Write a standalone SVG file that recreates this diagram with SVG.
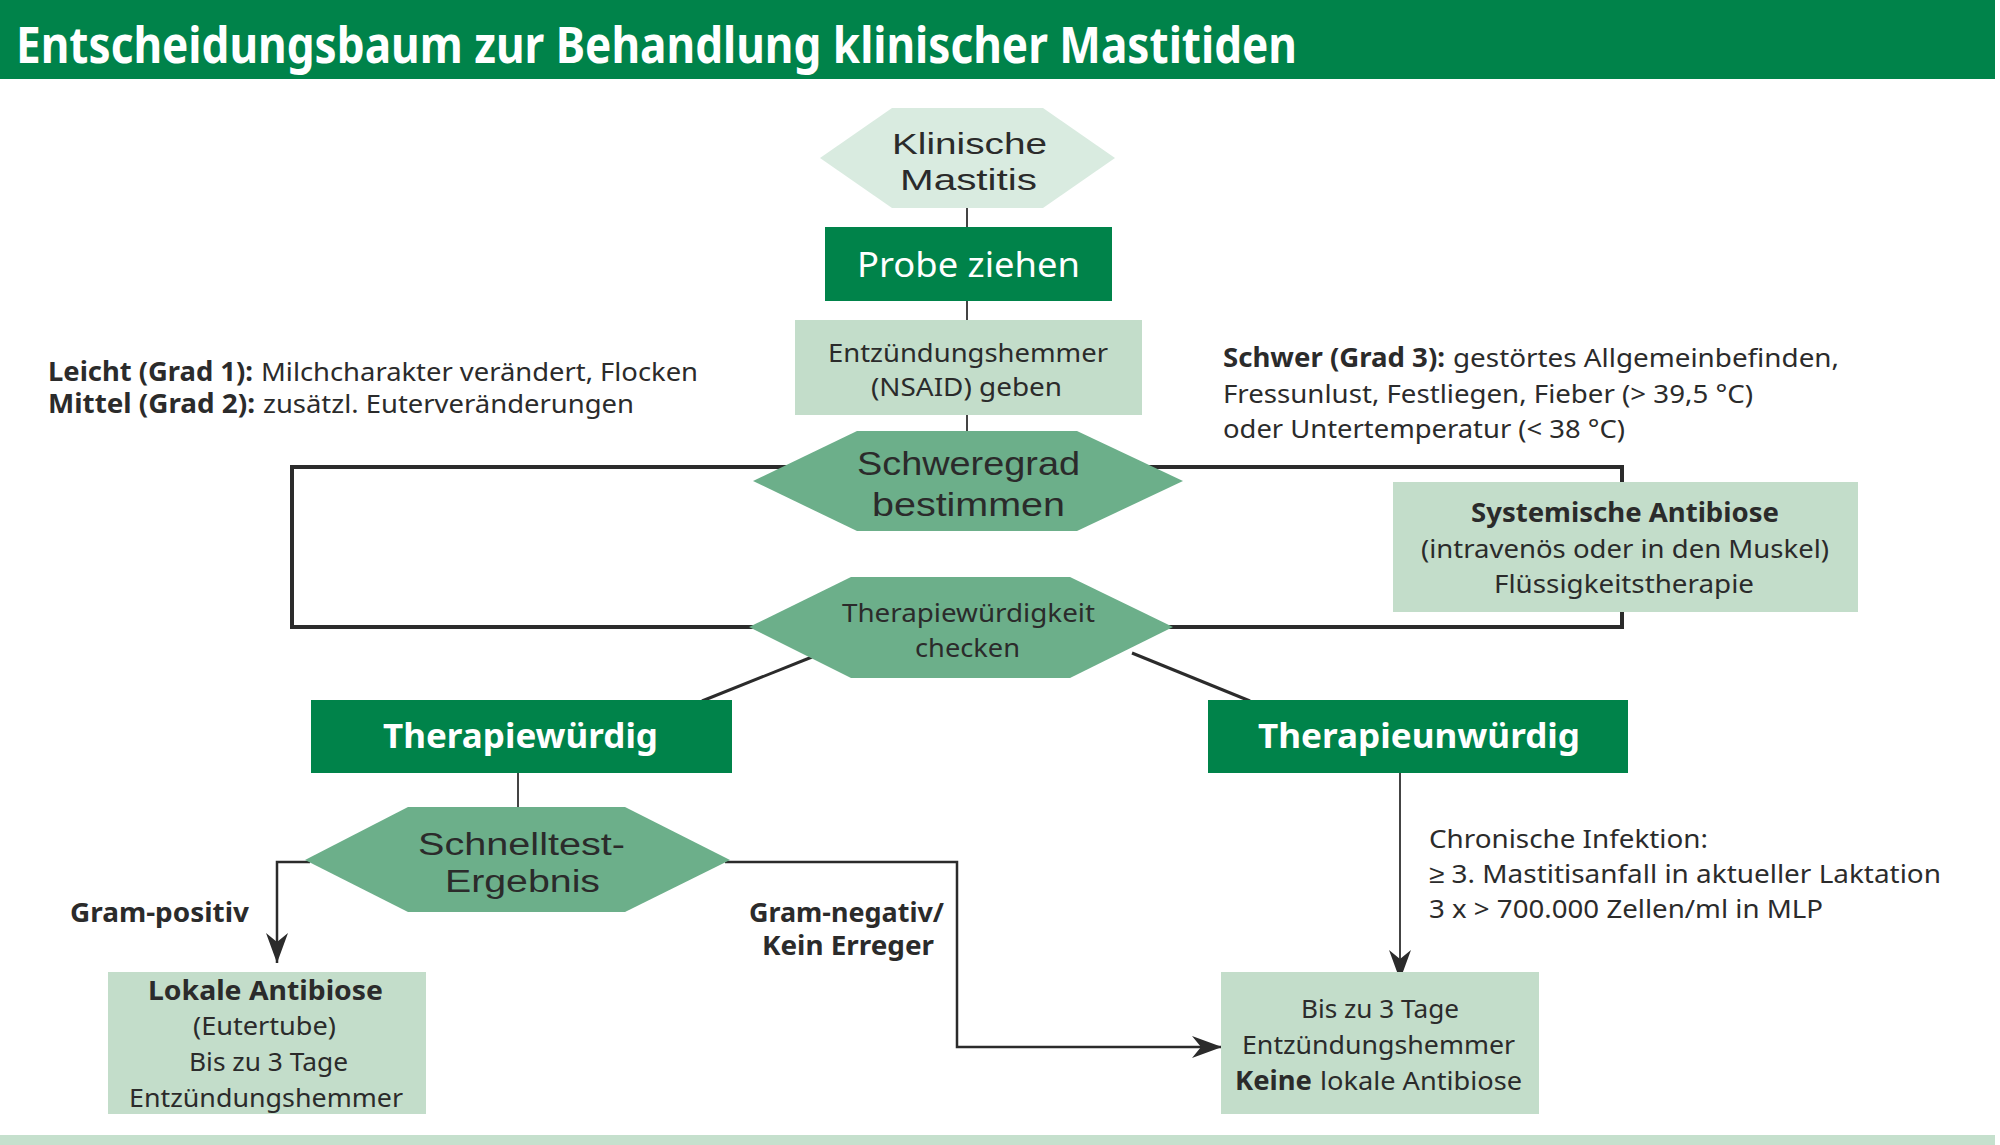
<svg xmlns="http://www.w3.org/2000/svg" width="2000" height="1145" viewBox="0 0 2000 1145">
<style>
text{font-family:"Noto Sans","Liberation Sans",sans-serif;fill:#2b2b2b;}
.t{font-size:26px;}
.b{font-weight:bold;}
.w{fill:#ffffff;}
.hx{font-family:"Liberation Sans","Noto Sans",sans-serif;}
.dk{fill:#00834a;}
.lt{fill:#c3ddca;}
.md{fill:#6caf8a;}
.pl{fill:#d9ebe0;}
.loop{fill:none;stroke:#2b2b2b;stroke-width:4;}
.thin{fill:none;stroke:#444;stroke-width:2;}
.arr{fill:none;stroke:#2b2b2b;stroke-width:2.5;}
</style>
<defs>
<marker id="ah" markerUnits="userSpaceOnUse" markerWidth="34" markerHeight="26" viewBox="-32 -13 34 26" refX="0" refY="0" orient="auto">
<path d="M0,0 L-30,-11 L-21,0 L-30,11 Z" fill="#2b2b2b"/>
</marker>
</defs>
<rect width="2000" height="1145" fill="#ffffff"/>
<g id="header">
<rect x="0" y="0" width="1995" height="79" class="dk"/>
<text x="16" y="63" font-size="50" class="b w" textLength="1281" lengthAdjust="spacingAndGlyphs">Entscheidungsbaum zur Behandlung klinischer Mastitiden</text>
</g>
<rect id="bottom-band" x="0" y="1135" width="1995" height="10" fill="#c5e0cd"/>

<g id="connectors">
<line x1="967" y1="206" x2="967" y2="229" class="thin"/>
<line x1="967" y1="300" x2="967" y2="322" class="thin"/>
<line x1="967" y1="413" x2="967" y2="433" class="thin"/>
<polyline points="820,467 292,467 292,627 780,627" class="loop"/>
<polyline points="1120,467 1622,467 1622,484" class="loop"/>
<polyline points="1622,610 1622,627 1150,627" class="loop"/>
<line x1="812" y1="657" x2="702" y2="701" stroke="#2b2b2b" stroke-width="3"/>
<line x1="1132" y1="653" x2="1250" y2="701" stroke="#2b2b2b" stroke-width="3"/>
<line x1="518" y1="772" x2="518" y2="809" class="thin"/>
<polyline points="310,862 277,862 277,963" class="arr" marker-end="url(#ah)"/>
<polyline points="725,862 957,862 957,1047 1222,1047" class="arr" marker-end="url(#ah)"/>
<line x1="1400" y1="772" x2="1400" y2="980" class="thin" marker-end="url(#ah)"/>
</g>

<g id="node-klinische">
<polygon points="820,158 892,108 1043,108 1115,158 1043,208 892,208" class="pl"/>
<text x="892" y="154" font-size="30" class="hx" textLength="155" lengthAdjust="spacingAndGlyphs">Klinische</text>
<text x="900" y="190" font-size="30" class="hx" textLength="137" lengthAdjust="spacingAndGlyphs">Mastitis</text>
</g>

<g id="node-probe">
<rect x="825" y="227" width="287" height="74" class="dk"/>
<text x="857" y="277" font-size="34" class="w" textLength="223" lengthAdjust="spacingAndGlyphs">Probe ziehen</text>
</g>

<g id="node-nsaid">
<rect x="795" y="320" width="347" height="95" class="lt"/>
<text x="828" y="362" class="t" textLength="280" lengthAdjust="spacingAndGlyphs">Entzündungshemmer</text>
<text x="871" y="396" class="t" textLength="191" lengthAdjust="spacingAndGlyphs">(NSAID) geben</text>
</g>

<g id="node-schweregrad">
<polygon points="753,481 857,431 1077,431 1183,481 1077,531 857,531" class="md"/>
<text x="857" y="475" font-size="34" class="hx" textLength="223" lengthAdjust="spacingAndGlyphs">Schweregrad</text>
<text x="872" y="516" font-size="34" class="hx" textLength="193" lengthAdjust="spacingAndGlyphs">bestimmen</text>
</g>

<g id="node-therapiewuerdigkeit">
<polygon points="749,627 851,577 1070,577 1173,627 1070,678 851,678" class="md"/>
<text x="842" y="622" class="t" textLength="253" lengthAdjust="spacingAndGlyphs">Therapiewürdigkeit</text>
<text x="915" y="657" class="t" textLength="105" lengthAdjust="spacingAndGlyphs">checken</text>
</g>

<g id="node-systemisch">
<rect x="1393" y="482" width="465" height="130" class="lt"/>
<text x="1471" y="522" class="t b" textLength="308" lengthAdjust="spacingAndGlyphs">Systemische Antibiose</text>
<text x="1421" y="558" class="t" textLength="408" lengthAdjust="spacingAndGlyphs">(intravenös oder in den Muskel)</text>
<text x="1494" y="593" class="t" textLength="260" lengthAdjust="spacingAndGlyphs">Flüssigkeitstherapie</text>
</g>

<g id="label-leicht-mittel">
<text x="48" y="381" class="t b" textLength="205" lengthAdjust="spacingAndGlyphs">Leicht (Grad 1):</text>
<text x="261" y="381" class="t" textLength="437" lengthAdjust="spacingAndGlyphs">Milchcharakter verändert, Flocken</text>
<text x="48" y="413" class="t b" textLength="207" lengthAdjust="spacingAndGlyphs">Mittel (Grad 2):</text>
<text x="263" y="413" class="t" textLength="371" lengthAdjust="spacingAndGlyphs">zusätzl. Euterveränderungen</text>
</g>

<g id="label-schwer">
<text x="1223" y="367" class="t b" textLength="222" lengthAdjust="spacingAndGlyphs">Schwer (Grad 3):</text>
<text x="1453" y="367" class="t" textLength="386" lengthAdjust="spacingAndGlyphs">gestörtes Allgemeinbefinden,</text>
<text x="1223" y="403" class="t" textLength="530" lengthAdjust="spacingAndGlyphs">Fressunlust, Festliegen, Fieber (&gt; 39,5 °C)</text>
<text x="1223" y="438" class="t" textLength="402" lengthAdjust="spacingAndGlyphs">oder Untertemperatur (&lt; 38 °C)</text>
</g>

<g id="node-therapiewuerdig">
<rect x="311" y="700" width="421" height="73" class="dk"/>
<text x="383" y="748" font-size="34" class="b w" textLength="275" lengthAdjust="spacingAndGlyphs">Therapiewürdig</text>
</g>

<g id="node-therapieunwuerdig">
<rect x="1208" y="700" width="420" height="73" class="dk"/>
<text x="1258" y="748" font-size="34" class="b w" textLength="322" lengthAdjust="spacingAndGlyphs">Therapieunwürdig</text>
</g>

<g id="node-schnelltest">
<polygon points="305,860 408,807 625,807 730,860 625,912 408,912" class="md"/>
<text x="418" y="855" font-size="31" class="hx" textLength="207" lengthAdjust="spacingAndGlyphs">Schnelltest-</text>
<text x="445" y="892" font-size="31" class="hx" textLength="155" lengthAdjust="spacingAndGlyphs">Ergebnis</text>
</g>

<g id="label-gram">
<text x="70" y="922" class="t b" textLength="179" lengthAdjust="spacingAndGlyphs">Gram-positiv</text>
<text x="749" y="922" class="t b" textLength="195" lengthAdjust="spacingAndGlyphs">Gram-negativ/</text>
<text x="762" y="955" class="t b" textLength="172" lengthAdjust="spacingAndGlyphs">Kein Erreger</text>
</g>

<g id="label-chronisch">
<text x="1429" y="848" class="t" textLength="279" lengthAdjust="spacingAndGlyphs">Chronische Infektion:</text>
<text x="1429" y="883" class="t" textLength="512" lengthAdjust="spacingAndGlyphs">≥ 3. Mastitisanfall in aktueller Laktation</text>
<text x="1429" y="918" class="t" textLength="394" lengthAdjust="spacingAndGlyphs">3 x &gt; 700.000 Zellen/ml in MLP</text>
</g>

<g id="node-lokal">
<rect x="108" y="972" width="318" height="142" class="lt"/>
<text x="148" y="1000" class="t b" textLength="235" lengthAdjust="spacingAndGlyphs">Lokale Antibiose</text>
<text x="193" y="1035" class="t" textLength="143" lengthAdjust="spacingAndGlyphs">(Eutertube)</text>
<text x="189" y="1071" class="t" textLength="159" lengthAdjust="spacingAndGlyphs">Bis zu 3 Tage</text>
<text x="129" y="1107" class="t" textLength="274" lengthAdjust="spacingAndGlyphs">Entzündungshemmer</text>
</g>

<g id="node-keine">
<rect x="1221" y="972" width="318" height="142" class="lt"/>
<text x="1301" y="1018" class="t" textLength="158" lengthAdjust="spacingAndGlyphs">Bis zu 3 Tage</text>
<text x="1242" y="1054" class="t" textLength="273" lengthAdjust="spacingAndGlyphs">Entzündungshemmer</text>
<text x="1235" y="1090" class="t b" textLength="77" lengthAdjust="spacingAndGlyphs">Keine</text>
<text x="1320" y="1090" class="t" textLength="202" lengthAdjust="spacingAndGlyphs">lokale Antibiose</text>
</g>
</svg>
